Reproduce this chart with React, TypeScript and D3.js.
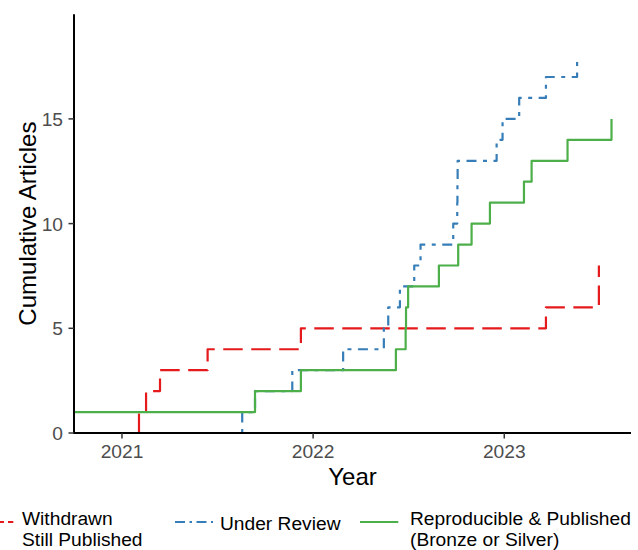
import React from "react";
import * as d3 from "d3";

// ---- data (decimal years, cumulative counts) ----
const withdrawnX = [2021.089, 2021.089, 2021.126, 2021.199, 2021.448, 2021.936, 2023.218, 2023.495, 2023.495];
const withdrawnY = [0, 1, 2, 3, 4, 5, 6, 7, 8];

const reviewX = [2021.629, 2021.629, 2021.696, 2021.891, 2022.157, 2022.370, 2022.393, 2022.454, 2022.529, 2022.562, 2022.733, 2022.754, 2022.755, 2022.756, 2022.960, 2022.991, 2023.078, 2023.218, 2023.381];
const reviewY = [0, 1, 2, 3, 4, 5, 6, 7, 8, 9, 10, 11, 12, 13, 14, 15, 16, 17, 18];

const reproX = [2020.749, 2021.696, 2021.936, 2022.433, 2022.484, 2022.486, 2022.497, 2022.658, 2022.759, 2022.829, 2022.925, 2023.103, 2023.143, 2023.331, 2023.561];
const reproY = [1, 2, 3, 4, 5, 6, 7, 8, 9, 10, 11, 12, 13, 14, 15];

const xTicks = [2021, 2022, 2023];
const yTicks = [0, 5, 10, 15];
const xDomain = [2020.749, 2023.663];
const yDomain = [0, 20];

const FONT = "'Liberation Sans', Arial, Helvetica, sans-serif";
const RED = "#E41A1C";
const BLUE = "#377EB8";
const GREEN = "#4DAF4A";

export default function App() {
  const W = 638, H = 550;
  const left = 74, right = 631, top = 14.2, bottom = 433;
  const x = d3.scaleLinear().domain(xDomain).range([left, right]);
  const y = d3.scaleLinear().domain(yDomain).range([bottom, top]);

  const mk = (xs: number[], ys: number[]) =>
    d3.line<number>().x((_, i) => x(xs[i])).y((_, i) => y(ys[i])).curve(d3.curveStepAfter)(xs.map((_, i) => i)) || "";

  const tickColor = "#333333";
  const labColor = "#4D4D4D";

  return (
    <svg width={W} height={H} style={{ position: "absolute", left: 0, top: 0, background: "#fff" }} fontFamily={FONT}>
      <rect x={0} y={0} width={W} height={H} fill="#fff" />
      {/* series */}
      <path d={mk(withdrawnX, withdrawnY)} fill="none" stroke={RED} strokeWidth={2.2} strokeDasharray="19.5 8.5" strokeLinejoin="round" />
      <path d={mk(reviewX, reviewY)} fill="none" stroke={BLUE} strokeWidth={2.2} strokeDasharray="4 6.5 10 6.5" strokeLinejoin="round" />
      <path d={mk(reproX, reproY)} fill="none" stroke={GREEN} strokeWidth={2.2} strokeLinejoin="round" />

      {/* axes */}
      <line x1={left} x2={left} y1={top} y2={bottom + 1} stroke="#000" strokeWidth={2} />
      <line x1={left - 1} x2={right} y1={bottom} y2={bottom} stroke="#000" strokeWidth={2} />
      {xTicks.map((t) => (
        <g key={"x" + t}>
          <line x1={x(t)} x2={x(t)} y1={bottom} y2={bottom + 5.5} stroke={tickColor} strokeWidth={1.5} />
          <text x={x(t)} y={458.3} textAnchor="middle" fontSize={19.2} fill={labColor}>{t}</text>
        </g>
      ))}
      {yTicks.map((t) => (
        <g key={"y" + t}>
          <line x1={left - 5.5} x2={left} y1={y(t)} y2={y(t)} stroke={tickColor} strokeWidth={1.5} />
          <text x={63} y={y(t)} dy="0.36em" textAnchor="end" fontSize={19.2} fill={labColor}>{t}</text>
        </g>
      ))}
      <text x={(left + right) / 2} y={484.5} textAnchor="middle" fontSize={24} fill="#000">Year</text>
      <text transform={`translate(35.5,${(top + bottom) / 2}) rotate(-90)`} textAnchor="middle" fontSize={24} fill="#000">Cumulative Articles</text>

      {/* legend */}
      <line x1={-1.3} x2={13.3} y1={522} y2={522} stroke={RED} strokeWidth={2.2} strokeDasharray="5.3 4" />
      <text x={22} y={525} fontSize={19.2} fill="#000">Withdrawn</text>
      <text x={22} y={545.5} fontSize={19.2} fill="#000">Still Published</text>

      <line x1={175} x2={213} y1={522} y2={522} stroke={BLUE} strokeWidth={2.2} strokeDasharray="10 4.5 2.5 4.5" />
      <text x={220} y={529.5} fontSize={19.2} fill="#000">Under Review</text>

      <line x1={360} x2={398.3} y1={522} y2={522} stroke={GREEN} strokeWidth={2.2} />
      <text x={410} y={525} fontSize={19.2} fill="#000">Reproducible &amp; Published</text>
      <text x={410} y={545.5} fontSize={19.2} fill="#000">(Bronze or Silver)</text>
    </svg>
  );
}
